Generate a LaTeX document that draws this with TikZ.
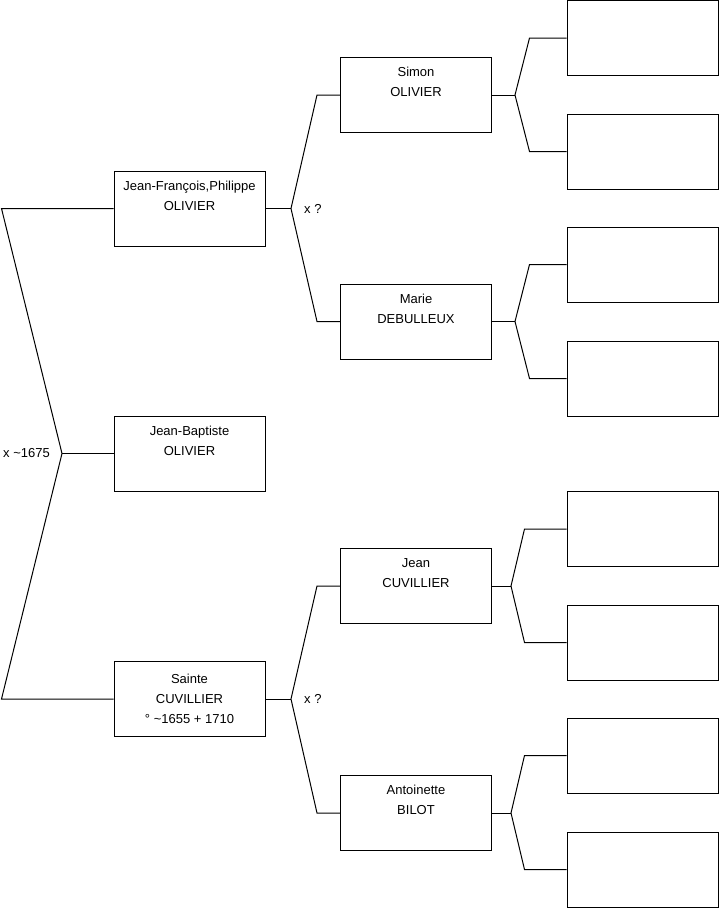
\documentclass[tikz,border=0pt]{standalone}
\usepackage{fontspec}
\setmainfont{Liberation Sans}
\tikzset{
  person/.style={draw, line width=1pt, minimum width=151pt, minimum height=75pt,
    align=center, inner sep=0pt, font=\fontsize{13}{20}\selectfont},
  link/.style={line width=1pt},
  note/.style={font=\fontsize{13}{14}\selectfont, inner sep=0pt},
}

\begin{document}
\begin{tikzpicture}[x=1pt, y=-1pt]
  \useasboundingbox (0,0) rectangle (719,908);
  % Generation 1
  \node[person] (jf)     at (189.5,208.5) {Jean-François,Philippe\\OLIVIER\\ \strut};
  \node[person] (jb)     at (189.5,453.5) {Jean-Baptiste\\OLIVIER\\ \strut};
  \node[person] (sainte) at (189.5,699)   {Sainte\\CUVILLIER\\° \textasciitilde 1655 + 1710};
  % Generation 2
  \node[person] (simon)  at (416,95)    {Simon\\OLIVIER\\ \strut};
  \node[person] (marie)  at (416,321.5) {Marie\\DEBULLEUX\\ \strut};
  \node[person] (jean)   at (416,586)   {Jean\\CUVILLIER\\ \strut};
  \node[person] (antoinette) at (416,813) {Antoinette\\BILOT\\ \strut};
  % Generation 3 (cases vides)
  \node[person] (g1) at (642.5,38)    {};
  \node[person] (g2) at (642.5,151.5) {};
  \node[person] (g3) at (642.5,264.5) {};
  \node[person] (g4) at (642.5,378.5) {};
  \node[person] (g5) at (642.5,529)   {};
  \node[person] (g6) at (642.5,642.5) {};
  \node[person] (g7) at (642.5,755.5) {};
  \node[person] (g8) at (642.5,869.5) {};
  % Fourches
  \coordinate (f0) at (62,453.5);
  \coordinate (f1) at (291,208.5);
  \coordinate (f2) at (291,699);
  \coordinate (f3) at (515,95);
  \coordinate (f4) at (515,321.5);
  \coordinate (f5) at (511,586);
  \coordinate (f6) at (511,813);
  % Parents de Jean-Baptiste
  \draw[link] (jf.west) -- ([xshift=-112pt]jf.west) -- (f0) -- ([xshift=-112pt]sainte.west) -- (sainte.west);
  \draw[link] (f0) -- (jb.west);
  \node[note, anchor=west] (m0) at (3,453.5) {x \textasciitilde1675};
  % Parents de Jean-François,Philippe et de Sainte
  \draw[link] (jf.east) -- (f1);
  \draw[link] (simon.west) -- ([xshift=-23pt]simon.west) -- (f1) -- ([xshift=-23pt]marie.west) -- (marie.west);
  \node[note, anchor=west] (m1) at (304,208.5) {x ?};
  \draw[link] (sainte.east) -- (f2);
  \draw[link] (jean.west) -- ([xshift=-23pt]jean.west) -- (f2) -- ([xshift=-23pt]antoinette.west) -- (antoinette.west);
  \node[note, anchor=west] (m2) at (304,699) {x ?};
  % Generation 3
  \draw[link] (simon.east) -- (f3);
  \draw[link] (g1.west) -- ([xshift=-37pt]g1.west) -- (f3) -- ([xshift=-37pt]g2.west) -- (g2.west);
  \draw[link] (marie.east) -- (f4);
  \draw[link] (g3.west) -- ([xshift=-37pt]g3.west) -- (f4) -- ([xshift=-37pt]g4.west) -- (g4.west);
  \draw[link] (jean.east) -- (f5);
  \draw[link] (g5.west) -- ([xshift=-42pt]g5.west) -- (f5) -- ([xshift=-42pt]g6.west) -- (g6.west);
  \draw[link] (antoinette.east) -- (f6);
  \draw[link] (g7.west) -- ([xshift=-42pt]g7.west) -- (f6) -- ([xshift=-42pt]g8.west) -- (g8.west);
\end{tikzpicture}
\end{document}
